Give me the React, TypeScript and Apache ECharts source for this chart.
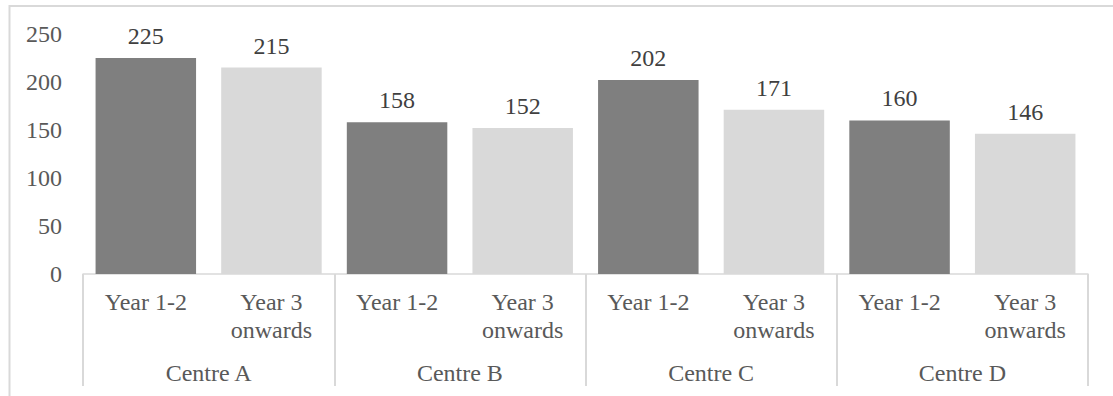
import React, { useEffect, useRef } from "react";
import * as echarts from "echarts";

const centres = ["Centre A", "Centre B", "Centre C", "Centre D"];
const periods = ["Year 1-2", "Year 3\nonwards"];
const year12 = [225, 158, 202, 160];
const year3 = [215, 152, 171, 146];
const periodColors = ["#7f7f7f", "#d9d9d9"];
const yTicks = { min: 0, max: 250, interval: 50 };

const FONT = "'Liberation Serif', 'Times New Roman', serif";

export default function App() {
  const ref = useRef<HTMLDivElement>(null);
  useEffect(() => {
    if (!ref.current) return;
    const chart = echarts.init(ref.current, null, { renderer: "svg" });
    const cats: string[] = [];
    const data: any[] = [];
    centres.forEach((c, i) => {
      [year12[i], year3[i]].forEach((v, j) => {
        cats.push(periods[j]);
        data.push({ value: v, itemStyle: { color: periodColors[j] } });
      });
    });
    chart.setOption({
      animation: false,
      backgroundColor: "#ffffff",
      grid: { left: 83, right: 25, top: 34, bottom: 122, containLabel: false },
      graphic: [
        {
          type: "rect",
          shape: { x: 9.5, y: 6, width: 1200, height: 500 },
          style: { fill: "none", stroke: "#d9d9d9", lineWidth: 2 },
          silent: true,
        },
      ],
      xAxis: [
        {
          type: "category",
          data: cats,
          position: "bottom",
          axisLine: { show: true, lineStyle: { color: "#d9d9d9", width: 1.5 } },
          axisTick: { show: false },
          axisLabel: {
            interval: 0,
            margin: 14,
            color: "#595959",
            fontFamily: FONT,
            fontSize: 24,
            lineHeight: 28,
            verticalAlign: "top",
          },
        },
        {
          type: "category",
          data: centres,
          position: "bottom",
          gridIndex: 0,
          axisLine: { show: false },
          axisTick: { show: true, length: 112, lineStyle: { color: "#d9d9d9", width: 2 } },
          axisLabel: {
            interval: 0,
            margin: 87,
            color: "#595959",
            fontFamily: FONT,
            fontSize: 24,
          },
        },
      ],
      yAxis: {
        type: "value",
        min: yTicks.min,
        max: yTicks.max,
        interval: yTicks.interval,
        axisLine: { show: false },
        axisTick: { show: false },
        splitLine: { show: false },
        axisLabel: {
          margin: 21,
          color: "#595959",
          fontFamily: FONT,
          fontSize: 24,
        },
      },
      series: [
        {
          type: "bar",
          xAxisIndex: 0,
          data,
          barWidth: "80%",
          label: {
            show: true,
            position: "top",
            distance: 10,
            color: "#404040",
            fontFamily: FONT,
            fontSize: 24,
          },
        },
      ],
    });
    return () => chart.dispose();
  }, []);
  return (
    <div
      ref={ref}
      style={{ position: "absolute", left: 0, top: 0, width: 1113, height: 396 }}
    />
  );
}
